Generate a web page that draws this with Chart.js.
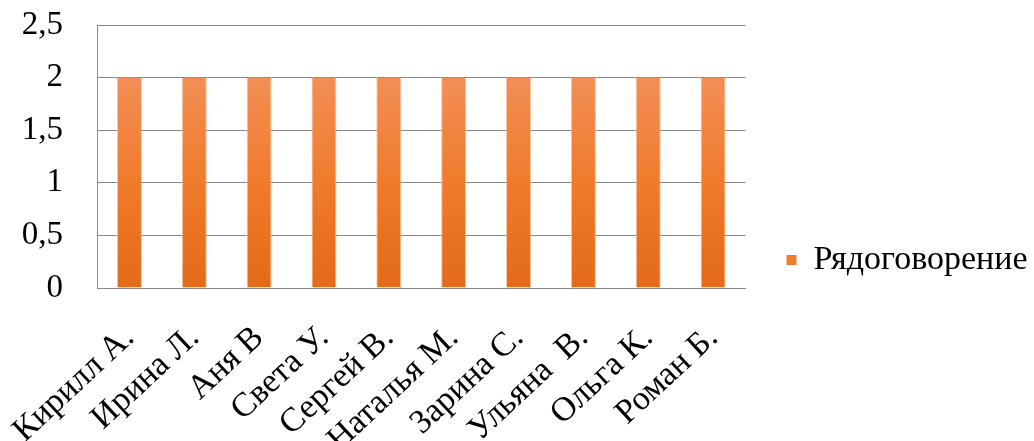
<!DOCTYPE html>
<html>
<head>
<meta charset="utf-8">
<script src="https://cdn.jsdelivr.net/npm/chart.js@4"></script>
<style>
  html, body { margin: 0; padding: 0; background: #ffffff; }
  #wrap { width: 1034px; height: 441px; position: relative; }
</style>
</head>
<body>
<div id="wrap"><canvas id="c" width="1034" height="441"></canvas></div>
<script>
const categories = ['Кирилл А.', 'Ирина Л.', 'Аня В', 'Света У.', 'Сергей В.', 'Наталья М.', 'Зарина С.', 'Ульяна  В.', 'Ольга К.', 'Роман Б.'];
const seriesName = 'Рядоговорение';
const seriesValues = [2, 2, 2, 2, 2, 2, 2, 2, 2, 2];
const yTickValues = [0, 0.5, 1, 1.5, 2, 2.5];
const yTickLabels = ['0', '0,5', '1', '1,5', '2', '2,5'];

const FONT = "'Liberation Serif', 'Times New Roman', serif";
const GRID = '#888888';

function barGradient(context) {
  const chart = context.chart;
  const area = chart.chartArea;
  if (!area) return '#EF7D2E';
  const yScale = chart.scales.y;
  const top = yScale.getPixelForValue(Math.max(...seriesValues));
  const g = chart.ctx.createLinearGradient(0, top, 0, area.bottom);
  g.addColorStop(0, '#F28E56');
  g.addColorStop(0.5, '#F07B2B');
  g.addColorStop(1, '#E36A18');
  return g;
}

const adjustLegend = {
  id: 'adjustLegend',
  afterLayout(chart) {
    const lg = chart.legend;
    if (lg) {
      lg.top += 27; lg.bottom += 27;
      lg.right = chart.width;
      lg.width = lg.right - lg.left;
    }
  }
};

new Chart(document.getElementById('c'), {
  type: 'bar',
  data: {
    labels: categories,
    datasets: [{
      label: seriesName,
      data: seriesValues,
      backgroundColor: barGradient,
      borderColor: 'rgba(250,190,150,0.9)',
      borderWidth: { left: 1, right: 1, top: 0, bottom: 0 },
      borderSkipped: false,
      barPercentage: 0.386,
      categoryPercentage: 1.0
    }]
  },
  options: {
    responsive: false,
    animation: false,
    layout: { padding: { left: 0, right: 40, top: 25, bottom: 0 } },
    plugins: {
      legend: {
        position: 'right',
        align: 'center',
        labels: {
          boxWidth: 10,
          boxHeight: 10,
          padding: 41,
          color: '#000',
          font: { family: FONT, size: 34 },
          generateLabels: (chart) => [{
            text: seriesName,
            fillStyle: '#EF7D2E',
            strokeStyle: '#EF7D2E',
            lineWidth: 0,
            hidden: false,
            datasetIndex: 0
          }]
        }
      },
      tooltip: { enabled: false }
    },
    scales: {
      x: {
        grid: { display: false, drawTicks: false },
        border: { display: true, color: GRID, width: 1 },
        ticks: {
          color: '#000',
          font: { family: FONT, size: 34 },
          maxRotation: 43,
          minRotation: 43,
          autoSkip: false,
          padding: 30,
          labelOffset: 0
        },
        afterFit: (s) => { s.height = 153; s.paddingLeft = 0; s.paddingRight = 0; }
      },
      y: {
        min: 0,
        max: 2.5,
        afterBuildTicks: (s) => { s.ticks = yTickValues.map(v => ({ value: v })); },
        grid: { color: GRID, lineWidth: 1, drawTicks: true, tickLength: 34, tickColor: 'rgba(0,0,0,0)' },
        border: { display: true, color: GRID, width: 1 },
        ticks: {
          color: '#000',
          font: { family: FONT, size: 33 },
          padding: 0,
          callback: (v) => { const i = yTickValues.indexOf(v); return i >= 0 ? yTickLabels[i] : ''; }
        },
        afterFit: (s) => { s.width = 97; }
      }
    }
  },
  plugins: [adjustLegend]
});
</script>
</body>
</html>
